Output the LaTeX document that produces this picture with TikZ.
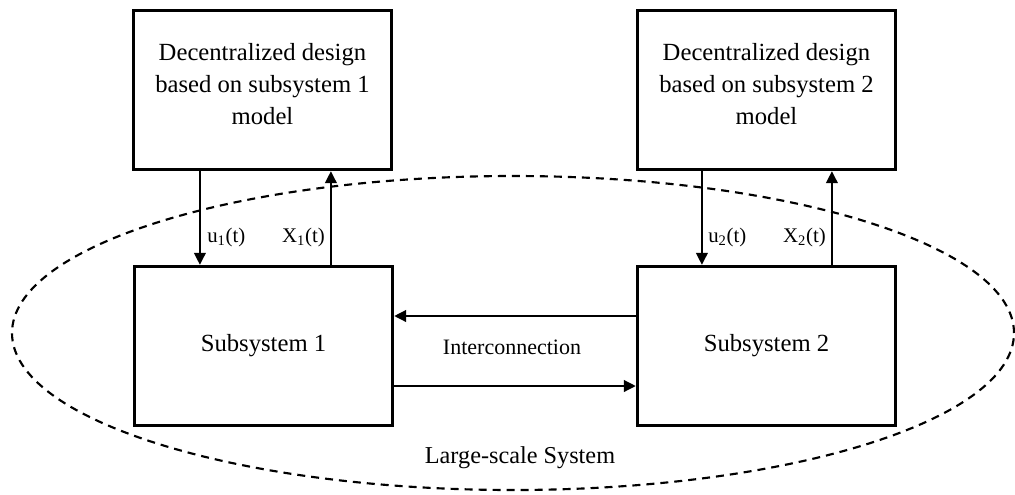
\documentclass[tikz,border=0pt]{standalone}
\usepackage{fontspec}
\setmainfont{Liberation Serif}
\usetikzlibrary{arrows.meta,calc,shapes.geometric}
\tikzset{
  box/.style={draw, line width=2.4pt, minimum width=258*0.75pt, minimum height=159*0.75pt, inner sep=0pt, align=center, font=\fontsize{18.5}{24.2}\selectfont},
  boxtext/.style={inner sep=0pt, align=center, font=\fontsize{18.5}{24.2}\selectfont},
  arr/.style={line width=2pt, -{Triangle[length=9pt,width=8.5pt]}},
  lbl/.style={inner sep=0pt, font=\fontsize{15.6}{18}\selectfont},
  sysell/.style={draw, ellipse, dash pattern=on 6pt off 4.5pt, line width=1.6pt, minimum width=1002*0.75pt, minimum height=314*0.75pt, inner sep=0pt}
}
\begin{document}
\begin{tikzpicture}[x=0.75pt, y=-0.75pt]
\useasboundingbox (0,0) rectangle (1015,494);
\node[sysell] (sys) at (513,333) {};
\node[inner sep=0pt, font=\fontsize{18.2}{22}\selectfont] (syslbl) at (520,458) {Large-scale System};
\node[box, fill=white] (d1) at (262.5,90) {};
\node[boxtext] (d1t) at (262.5,84) {Decentralized design\\based on subsystem 1\\model};
\node[box, fill=white] (d2) at (766.5,90) {};
\node[boxtext] (d2t) at (766.5,84) {Decentralized design\\based on subsystem 2\\model};
\node[box, fill=white] (s1) at (263.5,346) {Subsystem 1};
\node[box, fill=white] (s2) at (766.5,346) {Subsystem 2};
\node[inner sep=0pt, font=\fontsize{16.5}{20}\selectfont] (ic) at (512,347) {Interconnection};
% vertical arrows
\draw[arr] ($(d1.south west)+(68,0)$) -- ($(s1.north west)+(67,0)$);
\draw[arr] ($(s1.north west)+(198,0)$) -- ($(d1.south west)+(199,0)$);
\draw[arr] ($(d2.south west)+(66,0)$) -- ($(s2.north west)+(66,0)$);
\draw[arr] ($(s2.north west)+(196,0)$) -- ($(d2.south west)+(196,0)$);
% interconnection arrows
\draw[arr] ($(s2.west)+(0,-30)$) -- ($(s1.east)+(0,-30)$);
\draw[arr] ($(s1.east)+(0,40)$) -- ($(s2.west)+(0,40)$);
% labels
\node[lbl, anchor=west] (u1) at (207,237) {u\textsubscript{1}(t)};
\node[lbl, anchor=east] (x1) at (325,237) {X\textsubscript{1}(t)};
\node[lbl, anchor=west] (u2) at (708,237) {u\textsubscript{2}(t)};
\node[lbl, anchor=east] (x2) at (826,237) {X\textsubscript{2}(t)};
\end{tikzpicture}
\end{document}
